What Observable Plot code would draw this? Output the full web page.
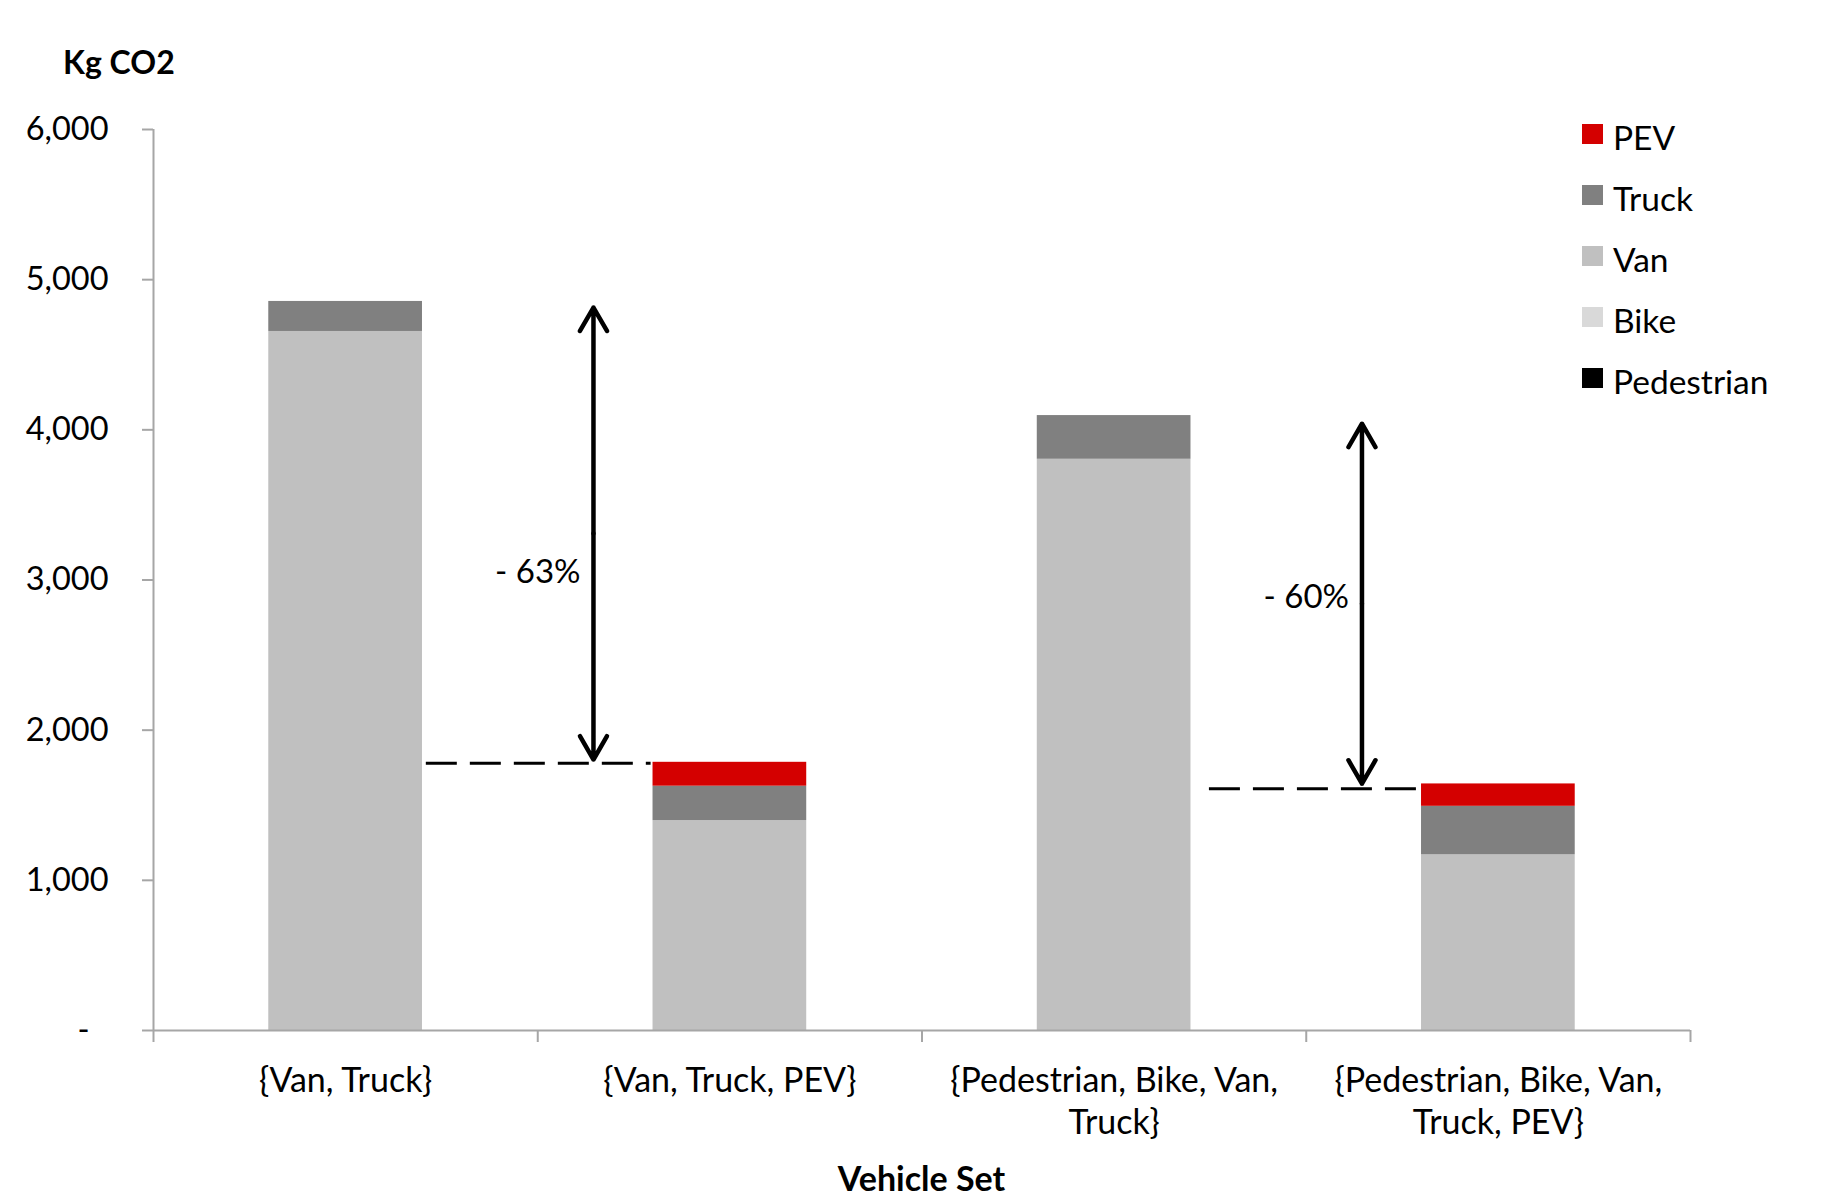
<!DOCTYPE html>
<html>
<head>
<meta charset="utf-8">
<script src="https://cdn.jsdelivr.net/npm/d3@7"></script>
<script src="https://cdn.jsdelivr.net/npm/@observablehq/plot@0.6"></script>
<style>
  body { margin: 0; background: #fff; font-family: Lato, "Open Sans", sans-serif; color: #000; }
  #wrap { position: relative; width: 1832px; height: 1199px; overflow: hidden; }
  #ylabel { box-sizing: border-box; height: 95px; padding-left: 63px; padding-top: 42px; font-weight: bold; font-size: 32px; line-height: 40px; }
  #chart svg { display: block; }
  #xlabel { box-sizing: border-box; height: 49px; padding: 8px 142px 0 153px; text-align: center; font-weight: bold; font-size: 34px; line-height: 40px; }
  #legend { position: absolute; left: 1582px; top: 117px; }
  .lg-row { display: flex; align-items: center; height: 40px; margin-bottom: 21px; font-size: 33.5px; }
  .lg-sw { width: 21px; height: 20px; margin-right: 10px; margin-top: -6px; }
  [aria-label^="y-axis"] line, [aria-label^="y-axis"] path,
  [aria-label^="x-axis"] line, [aria-label^="x-axis"] path { stroke: #a6a6a6; stroke-width: 2px; }
</style>
</head>
<body>
<div id="wrap">
  <div id="ylabel">Kg CO2</div>
  <div id="chart"></div>
  <div id="xlabel">Vehicle Set</div>
  <div id="legend"></div>
</div>
<script>
// ---- data ----
const categories = ["{Van, Truck}", "{Van, Truck, PEV}", "{Pedestrian, Bike, Van, Truck}", "{Pedestrian, Bike, Van, Truck, PEV}"];
const tickLabels = ["{Van, Truck}", "{Van, Truck, PEV}", "{Pedestrian, Bike, Van,\nTruck}", "{Pedestrian, Bike, Van,\nTruck, PEV}"];
const series = ["Pedestrian", "Bike", "Van", "Truck", "PEV"];
const seriesColors = ["#000000", "#d9d9d9", "#c0c0c0", "#808080", "#d40000"];
const pedestrian = [0, 0, 0, 0];
const bike = [0, 0, 0, 0];
const van = [4655, 1398, 3804, 1170];
const truck = [200, 229, 291, 323];
const pev = [0, 159, 0, 149];
const yTicks = [0, 1000, 2000, 3000, 4000, 5000, 6000];

// annotations: reduction from one vehicle set to the next
const reductionLabels = ["- 63%", "- 60%"];
const reductionFrom = [0, 2];
const reductionTo = [1, 3];
const baselineLevels = [1780, 1610];
const baselineGaps = [0.01, 0.048];
const arrowTops = [4814, 4041];
const arrowBottoms = [1804, 1644];
const labelLevels = [3052, 2883];

// ---- build tables ----
const valuesBySeries = {Pedestrian: pedestrian, Bike: bike, Van: van, Truck: truck, PEV: pev};
const rows = [];
categories.forEach((cat, i) => {
  let base = 0;
  for (const s of series) {
    const v = valuesBySeries[s][i];
    if (v > 0) rows.push({i, category: cat, series: s, value: v, y1: base, y2: base + v});
    base += v;
  }
});
const annots = reductionLabels.map((label, k) => ({
  label, from: reductionFrom[k], to: reductionTo[k], gap: baselineGaps[k],
  level: baselineLevels[k], top: arrowTops[k], bottom: arrowBottoms[k],
  mid: (arrowTops[k] + arrowBottoms[k]) / 2, labelY: labelLevels[k]
}));
const labelRows = categories.map((c, i) => ({i, text: tickLabels[i]}));

const half = 0.2;       // half bar width in slot units
const arrowOff = 0.355; // arrow position left of reduced bar centre

const chart = Plot.plot({
  width: 1832,
  height: 1055,
  marginTop: 34,
  marginBottom: 120,
  marginLeft: 153,
  marginRight: 142,
  style: {fontFamily: "Lato, 'Open Sans', sans-serif", fontSize: "32.5px", color: "#000", background: "#fff"},
  x: {domain: [0, categories.length], ticks: d3.range(categories.length + 1), tickSize: 12, tickFormat: () => "", label: null},
  y: {domain: [0, 6000], ticks: yTicks, tickSize: 11, tickPadding: 34, label: null,
      tickFormat: d => d === 0 ? "-\u2007" : d3.format(",")(d)},
  color: {domain: series, range: seriesColors},
  marks: [
    Plot.rect(rows, {x1: d => d.i + 0.5 - half, x2: d => d.i + 0.5 + half, y1: "y1", y2: "y2", fill: "series"}),
    Plot.ruleX([0], {stroke: "#a6a6a6", strokeWidth: 2}),
    Plot.ruleY([0], {stroke: "#a6a6a6", strokeWidth: 2}),
    Plot.ruleY(annots, {y: "level", x1: d => d.from + 0.5 + half + d.gap, x2: d => d.to + 0.5 - half - 0.005,
      stroke: "#000", strokeWidth: 3, strokeDasharray: "31,13"}),
    Plot.arrow(annots, {x1: d => d.to + 0.5 - arrowOff, x2: d => d.to + 0.5 - arrowOff, y1: "mid", y2: "top",
      stroke: "#000", strokeWidth: 4.5, headLength: 9}),
    Plot.arrow(annots, {x1: d => d.to + 0.5 - arrowOff, x2: d => d.to + 0.5 - arrowOff, y1: "mid", y2: "bottom",
      stroke: "#000", strokeWidth: 4.5, headLength: 9}),
    Plot.text(annots, {x: d => d.to + 0.5 - arrowOff, y: "labelY", text: "label", textAnchor: "end", dx: -13, fontSize: 33, fill: "#000"}),
    Plot.text(labelRows, {x: d => d.i + 0.5, y: 0, text: "text", lineAnchor: "top", dy: 31, lineHeight: 1.25, fontSize: 34, fill: "#000"})
  ]
});
document.getElementById("chart").appendChild(chart);

// legend (top to bottom reverse of stacking order)
const legend = document.getElementById("legend");
series.slice().reverse().forEach(s => {
  const row = document.createElement("div");
  row.className = "lg-row";
  const sw = document.createElement("div");
  sw.className = "lg-sw";
  sw.style.background = seriesColors[series.indexOf(s)];
  const t = document.createElement("span");
  t.textContent = s;
  row.appendChild(sw);
  row.appendChild(t);
  legend.appendChild(row);
});
</script>
</body>
</html>
